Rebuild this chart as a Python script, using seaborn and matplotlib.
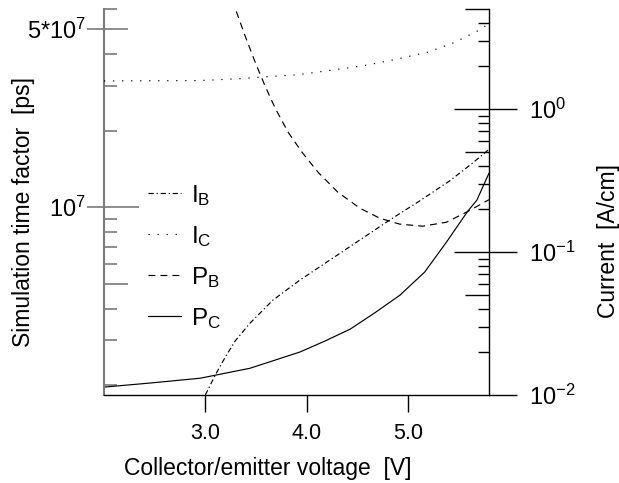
import matplotlib
matplotlib.use("Agg")
import matplotlib.pyplot as plt
import seaborn as sns

# ---------------- data ----------------
v_ib = [3.00, 3.098, 3.197, 3.295, 3.443, 3.669, 3.935, 4.23, 4.525, 4.82, 5.115, 5.41, 5.627, 5.80]
i_b = [0.0100, 0.0138, 0.0184, 0.0239, 0.0319, 0.0462, 0.0637, 0.0879, 0.1213, 0.1674,
       0.2273, 0.3136, 0.4125, 0.522]

v_ic = [2.0, 2.95, 3.35, 3.6, 3.9, 4.25, 4.55, 4.85, 5.2, 5.45, 5.7, 5.8]
i_c = [1.57, 1.58, 1.63, 1.68, 1.73, 1.87, 2.0, 2.2, 2.5, 2.9, 3.55, 3.97]

v_pb = [3.266, 3.394, 3.492, 3.590, 3.689, 3.817, 3.954, 4.112, 4.308, 4.525, 4.722, 4.918,
        5.145, 5.381, 5.578, 5.80]
p_b = [6.50e7, 4.69e7, 3.71e7, 2.99e7, 2.45e7, 1.97e7, 1.644e7, 1.372e7, 1.145e7, 9.91e6,
       9.05e6, 8.58e6, 8.42e6, 8.73e6, 9.56e6, 1.07e7]

v_pc = [2.0, 2.46, 2.95, 3.44, 3.935, 4.18, 4.43, 4.67, 4.92, 5.165, 5.38, 5.59, 5.68, 5.80]
p_c = [1.965e6, 2.04e6, 2.13e6, 2.33e6, 2.70e6, 2.98e6, 3.32e6, 3.84e6, 4.51e6, 5.56e6,
       7.29e6, 9.64e6, 1.065e7, 1.36e7]

x_ticks = [3.0, 4.0, 5.0]
x_ticklabels = ["3.0", "4.0", "5.0"]
left_major = [1e7, 5e7]
left_major_labels = [r"$\mathregular{10^7}$", r"$\mathregular{5{*}10^7}$"]
right_major = [1e-2, 1e-1, 1e0]
right_major_labels = [r"$\mathregular{10^{-2}}$", r"$\mathregular{10^{-1}}$", r"$\mathregular{10^0}$"]
legend_labels = [r"$\mathregular{I_B}$", r"$\mathregular{I_C}$", r"$\mathregular{P_B}$", r"$\mathregular{P_C}$"]

# ---------------- style ----------------
sns.set_style("ticks")
plt.rcParams["font.family"] = ["Liberation Sans", "DejaVu Sans"]
plt.rcParams["mathtext.fontset"] = "custom"
plt.rcParams["mathtext.rm"] = "Liberation Sans"
plt.rcParams["lines.scale_dashes"] = False
plt.rcParams["text.color"] = "black"
plt.rcParams["axes.labelcolor"] = "black"
plt.rcParams["xtick.labelcolor"] = "black"
plt.rcParams["ytick.labelcolor"] = "black"

GRAY = "#7a7a7a"
LW = 0.85

fig = plt.figure(figsize=(6.19, 4.83), dpi=100)
ax = fig.add_axes([104 / 619, 1 - 395 / 483, 385 / 619, 386 / 483])
ax.set_yscale("log")
ax2 = ax.twinx()
ax2.set_yscale("log")

# P curves on the left (time) axis, I curves on the right (current) axis
sns.lineplot(x=v_pb, y=p_b, ax=ax, color="black", lw=LW, linestyle=(0, (5.0, 3.6)), errorbar=None)
h_pb = ax.lines[-1]
sns.lineplot(x=v_pc, y=p_c, ax=ax, color="black", lw=LW, linestyle="-", errorbar=None)
h_pc = ax.lines[-1]
sns.lineplot(x=v_ib, y=i_b, ax=ax2, color="black", lw=LW, linestyle=(0, (3.8, 2.0, 0.9, 2.0)), errorbar=None)
h_ib = ax2.lines[-1]
sns.lineplot(x=v_ic, y=i_c, ax=ax2, color="black", lw=LW, linestyle=(0, (0.9, 5.6)), errorbar=None)
h_ic = ax2.lines[-1]

ax.set_xlim(2.0, 5.8)
ax.set_ylim(1.83e6, 6.0e7)
ax2.set_ylim(1e-2, 5.0)

# x axis
ax.set_xticks(x_ticks, labels=x_ticklabels)
ax.tick_params(axis="x", which="major", direction="out", length=12, width=1.0,
               color="black", labelsize=15.5, pad=8)
ax.tick_params(axis="x", which="minor", length=0)

# left axis ticks
ax.set_yticks(left_major, labels=left_major_labels)
ax.set_yticks([2e6, 3e6, 4e6, 6e6, 7e6, 8e6, 9e6, 2e7, 3e7, 4e7, 5.99e7], minor=True)
ax.yaxis.set_minor_formatter(plt.NullFormatter())
ax.tick_params(axis="y", which="major", direction="out", length=12, width=1.2,
               color=GRAY, labelsize=17, pad=1)
ax.tick_params(axis="y", which="minor", direction="in", length=9, width=1.2, color=GRAY)

secL = ax.secondary_yaxis("left")
secL.set_yticks([1e7], labels=[""])
secL.set_yticks([5e6, 5e7], labels=["", ""], minor=True)
secL.tick_params(which="major", direction="in", length=25, width=1.2, color=GRAY,
                 labelleft=False, labelright=False)
secL.tick_params(which="minor", direction="in", length=17, width=1.2, color=GRAY,
                 labelleft=False, labelright=False)
for s in secL.spines.values():
    s.set_visible(False)

# right axis ticks
ax2.set_yticks(right_major, labels=right_major_labels)
right_minor = [m * 10.0 ** e for e in (-2, -1, 0) for m in (2, 3, 4, 6, 7, 8, 9)]
right_minor = [t for t in right_minor if t < 5.0]
ax2.set_yticks(right_minor, minor=True)
ax2.yaxis.set_minor_formatter(plt.NullFormatter())
ax2.tick_params(axis="y", which="major", direction="out", length=20, width=1.0,
                color="black", labelsize=17, pad=9)
ax2.tick_params(axis="y", which="minor", direction="in", length=8, width=1.0, color="black")

secR = ax2.secondary_yaxis("right")
secR.set_yticks([1e-1, 1e0], labels=["", ""])
secR.set_yticks([5e-2, 5e-1, 4.99], labels=["", "", ""], minor=True)
secR.tick_params(which="major", direction="in", length=25, width=1.0, color="black",
                 labelleft=False, labelright=False)
secR.tick_params(which="minor", direction="in", length=17, width=1.0, color="black",
                 labelleft=False, labelright=False)
for s in secR.spines.values():
    s.set_visible(False)

# spines
ax.spines["top"].set_visible(False)
ax.spines["right"].set_visible(False)
ax.spines["left"].set_color(GRAY)
ax.spines["left"].set_linewidth(1.5)
ax.spines["bottom"].set_color("black")
ax.spines["bottom"].set_linewidth(1.0)
for k in ("top", "left", "bottom"):
    ax2.spines[k].set_visible(False)
ax2.spines["right"].set_color("black")
ax2.spines["right"].set_linewidth(1.0)

# labels
ax.set_xlabel("Collector/emitter voltage  [V]", fontsize=16.5)
ax.xaxis.set_label_coords(0.4247, -0.16)
ax.set_ylabel("Simulation time factor  [ps]", fontsize=16.5)
ax.yaxis.set_label_coords(-0.178, 0.473)
ax2.set_ylabel("Current  [A/cm]", fontsize=16.5)
ax2.yaxis.set_label_coords(1.28, 0.40)

# legend
leg = ax2.legend([h_ib, h_ic, h_pb, h_pc], legend_labels, loc="upper left",
                 bbox_to_anchor=(148 / 619, 1 - 183 / 483), bbox_transform=fig.transFigure,
                 frameon=False, fontsize=17.5, handlelength=1.35, handletextpad=0.42,
                 labelspacing=0.66, borderpad=0, borderaxespad=0)

fig.savefig("out.png", dpi=100)
